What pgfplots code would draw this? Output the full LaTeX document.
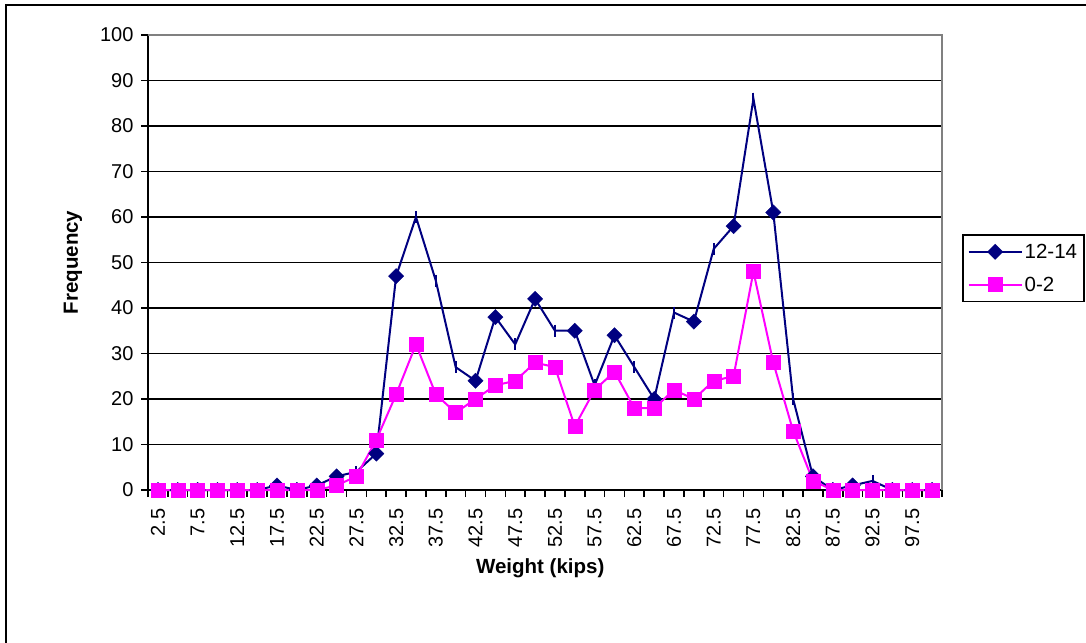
\documentclass[border=0pt]{standalone}
\usepackage{pgfplots}
\pgfplotsset{compat=1.18}
\usepackage{pgfplotstable}
\usepackage{fontspec}
\setmainfont{Liberation Sans}
\definecolor{navyblue}{RGB}{0,0,128}
\definecolor{pinkm}{RGB}{255,0,255}
\pgfplotstableread{
w b p
2.5 0 0
5 0 0
7.5 0 0
10 0 0
12.5 0 0
15 0 0
17.5 1 0
20 0 0
22.5 1 0
25 3 1
27.5 4 3
30 8 11
32.5 47 21
35 60 32
37.5 46 21
40 27 17
42.5 24 20
45 38 23
47.5 32 24
50 42 28
52.5 35 27
55 35 14
57.5 23 22
60 34 26
62.5 27 18
65 20 18
67.5 39 22
70 37 20
72.5 53 24
75 58 25
77.5 86 48
80 61 28
82.5 20 13
85 3 2
87.5 0 0
90 1 0
92.5 2 0
95 0 0
97.5 0 0
100 0 0
}\data
\begin{document}
\begin{tikzpicture}
\begin{axis}[
  at={(0pt,0pt)}, anchor=south west,
  width=794pt, height=455pt, scale only axis,
  clip=false,
  xmin=1.25, xmax=101.25, ymin=0, ymax=100,
  axis x line*=bottom, axis y line*=left,
  axis line style={black, line width=1.8pt, -},
  xtick={2.5,7.5,12.5,17.5,22.5,27.5,32.5,37.5,42.5,47.5,52.5,57.5,62.5,67.5,72.5,77.5,82.5,87.5,92.5,97.5},
  xticklabels={2.5,7.5,12.5,17.5,22.5,27.5,32.5,37.5,42.5,47.5,52.5,57.5,62.5,67.5,72.5,77.5,82.5,87.5,92.5,97.5},
  minor xtick={1.25,3.75,...,101.25},
  ytick={0,10,...,100},
  tick align=outside,
  major tick length=7pt, minor tick length=7pt,
  every major x tick/.append style={draw=none},
  every minor x tick/.append style={black, line width=1.6pt},
  ytick style={black, line width=1.6pt},
  ymajorgrids, major grid style={black, line width=1.7pt},
  /pgf/number format/assume math mode=true,
  tick label style={font=\fontsize{20}{23}\selectfont, black},
  xticklabel style={rotate=90, anchor=east},
  xticklabel shift=8pt,
  yticklabel shift=4pt,
  label style={font=\bfseries\fontsize{20.5}{24}\selectfont},
  xlabel={Weight (kips)}, ylabel={Frequency},
  xlabel style={at={(axis description cs:0.494,-0.1714)}, anchor=center},
  ylabel style={at={(axis description cs:-0.0945,0.5)}, anchor=center},
  legend style={at={(1.1801,0.5626)}, anchor=north east, draw=black, line width=1.8pt,
    font=\fontsize{20.5}{24}\selectfont, inner xsep=5pt, inner ysep=7pt, row sep=13pt,
    cells={anchor=west}},
  legend image code/.code={\draw[mark repeat=2,mark phase=2,#1] plot coordinates {(0pt,0pt) (26.5pt,0pt) (53pt,0pt)};},
]
\addplot[navyblue, line width=2pt, mark=none, forget plot] table[x=w,y=b]{\data};
\addplot[navyblue, only marks, mark=square*, mark size=5.4pt,
  mark options={rotate=45, fill=navyblue, draw=navyblue, line width=0.4pt},
  mark indices={1,2,3,4,5,6,7,8,9,10,12,13,17,18,20,22,24,26,28,30,32,34,35,36,38,39,40},
  forget plot] table[x=w,y=b]{\data};
\addplot[navyblue, only marks, mark=|, mark size=6pt, mark options={line width=2pt},
  mark indices={11,14,15,16,19,21,23,25,27,29,31,33,37},
  forget plot] table[x=w,y=b]{\data};
\addlegendimage{navyblue, line width=2pt, mark=square*, mark size=5.4pt, mark options={rotate=45, line width=0.4pt}}
\addlegendentry{12-14}
\addplot[pinkm, line width=2pt, mark=square*, mark size=7pt,
  mark options={fill=pinkm, draw=pinkm, line width=0.4pt}] table[x=w,y=p]{\data};
\addlegendentry{0-2}
\draw[gray, line width=1.8pt] (rel axis cs:0,1) -- (rel axis cs:1,1) -- (rel axis cs:1,0);
\end{axis}
\draw[line width=1.8pt] (-142pt,-170pt) -- (-142pt,485pt) -- (960pt,485pt);
\pgfresetboundingbox
\path[use as bounding box] (-148pt,-152pt) rectangle (938pt,490pt);
\end{tikzpicture}
\end{document}
